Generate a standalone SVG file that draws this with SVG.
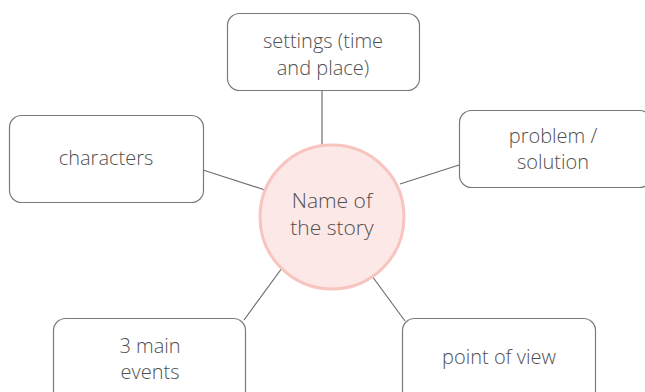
<svg xmlns="http://www.w3.org/2000/svg" width="645" height="392" viewBox="0 0 645 392">
<style>
.box{fill:#fff;stroke:#7a7a7a;stroke-width:1.2}
.lbl{font-family:"Open Sans","Noto Sans","Liberation Sans",sans-serif;font-size:20px;fill:#505050;text-anchor:middle;font-weight:300}
.con{stroke:#6e6e6e;stroke-width:1.2;fill:none}
</style>
<rect width="645" height="392" fill="#fff"/>
<g id="connectors">
<line class="con" x1="322" y1="90" x2="322" y2="146"/>
<line class="con" x1="203" y1="170" x2="265" y2="190"/>
<line class="con" x1="459" y1="165" x2="400" y2="184"/>
<line class="con" x1="244" y1="320" x2="282" y2="268"/>
<line class="con" x1="405" y1="321" x2="372" y2="276"/>
</g>
<g id="center">
<circle cx="332" cy="217" r="72" fill="#fde8e8" stroke="#f8c4c0" stroke-width="3"/>
<text class="lbl" x="332" y="208" style="font-size:21px">Name of</text>
<text class="lbl" x="332" y="235" style="font-size:21px">the story</text>
</g>
<g id="settings">
<rect class="box" x="227.5" y="13.5" width="192" height="77" rx="12"/>
<text class="lbl" x="323" y="48">settings (time</text>
<text class="lbl" x="323" y="75">and place)</text>
</g>
<g id="characters">
<rect class="box" x="9.5" y="115.5" width="194" height="87" rx="12"/>
<text class="lbl" x="106" y="165">characters</text>
</g>
<g id="problem">
<rect class="box" x="459.5" y="110.5" width="192" height="77" rx="12"/>
<text class="lbl" x="553" y="143">problem /</text>
<text class="lbl" x="553" y="169">solution</text>
</g>
<g id="events">
<rect class="box" x="53.5" y="318.5" width="192" height="90" rx="12"/>
<text class="lbl" x="150" y="353">3 main</text>
<text class="lbl" x="150" y="379">events</text>
</g>
<g id="pov">
<rect class="box" x="402.5" y="318.5" width="193" height="90" rx="12"/>
<text class="lbl" x="499" y="364">point of view</text>
</g>
</svg>
